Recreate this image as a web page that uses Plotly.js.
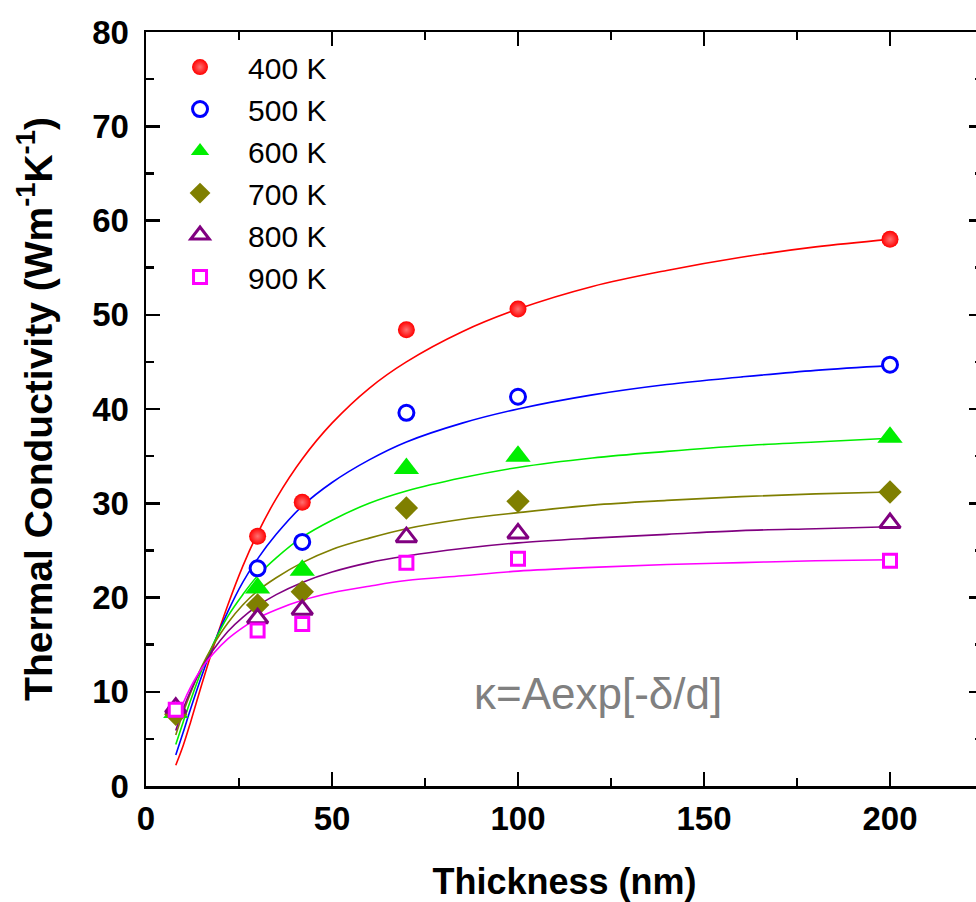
<!DOCTYPE html>
<html>
<head>
<meta charset="utf-8">
<script src="https://cdn.plot.ly/plotly-3.0.1.min.js"></script>
<style>
html,body{margin:0;padding:0;overflow:hidden;background:#fff;}
#chart{width:990px;height:902px;}
</style>
</head>
<body>
<div id="chart"></div>
<script>
// Measured data (thickness in nm, thermal conductivity in W m^-1 K^-1)
const thickness = [8, 30, 42, 70, 100, 200];
const k400 = [7.9, 26.5, 30.1, 48.4, 50.6, 58.0];
const k500 = [8.0, 23.1, 25.9, 39.6, 41.3, 44.7];
const k600 = [7.8, 21.0, 22.9, 33.7, 35.0, 37.0];
const k700 = [7.6, 19.2, 20.6, 29.5, 30.2, 31.2];
const k800 = [8.3, 17.8, 18.7, 26.4, 26.8, 27.9];
const k900 = [8.1, 16.5, 17.2, 23.7, 24.1, 23.9];

// Fit curves at sample thicknesses
const fitX = [8, 10, 12, 15, 18, 22, 26, 30, 35, 42, 50, 60, 70, 85, 100, 120, 140, 160, 180, 200];
const fit400 = [2.2, 4.3, 6.8, 10.8, 14.6, 19.2, 23.3, 26.8, 30.5, 34.7, 38.5, 42.2, 45.0, 48.2, 50.6, 53.0, 54.7, 56.1, 57.2, 58.0];
const fit500 = [3.3, 5.7, 8.2, 11.7, 14.9, 18.5, 21.6, 24.1, 26.7, 29.7, 32.2, 34.6, 36.5, 38.5, 40.0, 41.5, 42.6, 43.4, 44.1, 44.6];
const fit600 = [4.4, 6.8, 9.1, 12.3, 15.0, 18.0, 20.3, 22.3, 24.2, 26.4, 28.2, 30.0, 31.3, 32.7, 33.8, 34.8, 35.5, 36.1, 36.5, 36.9];
const fit700 = [5.4, 7.8, 9.9, 12.7, 14.9, 17.3, 19.2, 20.7, 22.1, 23.7, 25.1, 26.3, 27.3, 28.3, 29.0, 29.8, 30.3, 30.7, 31.0, 31.2];
const fit800 = [5.9, 8.2, 10.1, 12.5, 14.4, 16.4, 17.9, 19.1, 20.3, 21.6, 22.7, 23.7, 24.4, 25.2, 25.8, 26.3, 26.7, 27.1, 27.3, 27.5];
const fit900 = [6.7, 8.8, 10.5, 12.5, 14.0, 15.6, 16.8, 17.8, 18.7, 19.7, 20.5, 21.2, 21.8, 22.3, 22.8, 23.2, 23.5, 23.7, 23.9, 24.0];

const seriesNames = ['400 K', '500 K', '600 K', '700 K', '800 K', '900 K'];
const xTickVals = [0, 50, 100, 150, 200];
const yTickVals = [0, 10, 20, 30, 40, 50, 60, 70, 80];
const formulaText = 'κ=Aexp[-δ/d]';

const colors = ['#ff0000', '#0000ff', '#00ee00', '#7f7f00', '#800080', '#ff00ff'];
const pointSets = [k400, k500, k600, k700, k800, k900];
const fitSets = [fit400, fit500, fit600, fit700, fit800, fit900];
const markerStyles = [
  {symbol: 'circle', size: 17, color: '#ff0000', gradient: {type: 'radial', color: '#ff7070'}, line: {width: 0}},
  {symbol: 'circle', size: 15, color: '#ffffff', line: {color: '#0000ff', width: 3}},
  {symbol: 'triangle-up', size: 22, color: '#00ee00', line: {width: 0}},
  {symbol: 'diamond', size: 18, color: '#7f7f00', line: {width: 0}},
  {symbol: 'triangle-up', size: 18, color: '#ffffff', line: {color: '#800080', width: 3}},
  {symbol: 'square', size: 13, color: '#ffffff', line: {color: '#ff00ff', width: 3}}
];

const traces = [];
fitSets.forEach((f, i) => {
  traces.push({x: fitX, y: f, type: 'scatter', mode: 'lines', line: {color: colors[i], width: 1.6, shape: 'spline'}, showlegend: false, hoverinfo: 'skip'});
});
pointSets.forEach((p, i) => {
  traces.push({x: thickness, y: p, type: 'scatter', mode: 'markers', name: seriesNames[i], marker: markerStyles[i], legendgroup: 'g' + i});
});

const tickFont = {family: 'Liberation Sans, Arial, sans-serif', size: 33, color: '#000', weight: 'bold'};
const layout = {
  width: 990, height: 902,
  margin: {l: 146, r: 7, t: 32, b: 116},
  paper_bgcolor: '#fff', plot_bgcolor: '#fff',
  showlegend: true,
  legend: {
    x: 0.0072, y: 0.988, xanchor: 'left', yanchor: 'top',
    font: {family: 'Liberation Sans, Arial, sans-serif', size: 30, color: '#000'},
    bgcolor: 'rgba(0,0,0,0)', borderwidth: 0,
    traceorder: 'grouped', tracegroupgap: 0, itemwidth: 86
  },
  xaxis: {
    range: [0, 225], showgrid: false, zeroline: false,
    showline: true, linecolor: '#000', linewidth: 2.5, mirror: 'ticks',
    ticks: 'inside', ticklen: 14, tickwidth: 2.5, tickcolor: '#000',
    tickvals: xTickVals, ticktext: xTickVals.map(String),
    minor: {dtick: 25, tick0: 0, ticks: 'inside', ticklen: 8, tickwidth: 2.5, tickcolor: '#000', showgrid: false},
    tickfont: tickFont, ticklabelstandoff: 2,
    title: {text: 'Thickness (nm)', font: {family: 'Liberation Sans, Arial, sans-serif', size: 36, color: '#000', weight: 'bold'}, standoff: 36}
  },
  yaxis: {
    range: [0, 80], showgrid: false, zeroline: false,
    showline: true, linecolor: '#000', linewidth: 2.5, mirror: 'ticks',
    ticks: 'inside', ticklen: 14, tickwidth: 2.5, tickcolor: '#000',
    tickvals: yTickVals, ticktext: yTickVals.map(String),
    minor: {dtick: 5, tick0: 0, ticks: 'inside', ticklen: 8, tickwidth: 2.5, tickcolor: '#000', showgrid: false},
    tickfont: tickFont, ticklabelstandoff: 8,
    title: {text: 'Thermal Conductivity (Wm<sup>-1</sup>K<sup>-1</sup>)', font: {family: 'Liberation Sans, Arial, sans-serif', size: 39, color: '#000', weight: 'bold'}, standoff: 28}
  },
  annotations: [{
    x: 155.4, y: 9.8, xref: 'x', yref: 'y', xanchor: 'right', yanchor: 'middle',
    text: formulaText, showarrow: false,
    font: {family: 'Liberation Sans, Arial, sans-serif', size: 44, color: '#808080'}
  }]
};

Plotly.newPlot('chart', traces, layout, {staticPlot: true, displayModeBar: false});
</script>
</body>
</html>
